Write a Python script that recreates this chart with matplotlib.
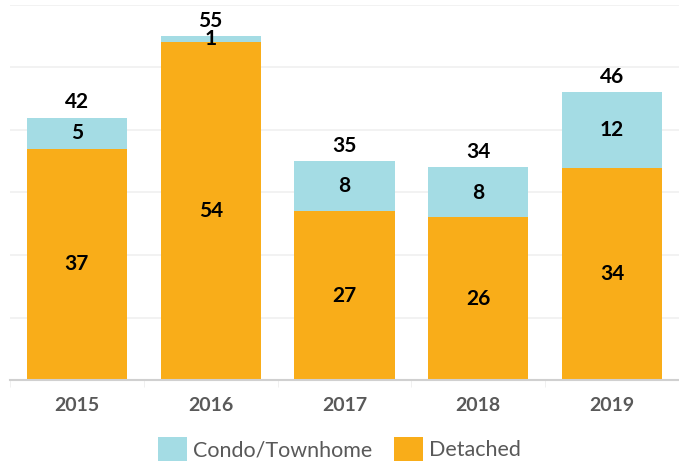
import matplotlib.pyplot as plt
import numpy as np

# datos
years = ['2015', '2016', '2017', '2018', '2019']
detached = [37, 54, 27, 26, 34]
condo = [5, 1, 8, 8, 12]
totals = [42, 55, 35, 34, 46]

c_det = '#F9AD19'
c_con = '#A4DCE4'
font = ['Lato', 'DejaVu Sans']

fig = plt.figure(figsize=(6.79, 4.61), dpi=100)
ax = fig.add_axes([10/679, 81/461, 669/679, 375/461])

x = np.arange(len(years))
w = 0.75
b1 = ax.bar(x, detached, w, color=c_det, label='Detached', zorder=2)
b2 = ax.bar(x, condo, w, bottom=detached, color=c_con, label='Condo/Townhome', zorder=2)

# etiquetas dentro de las barras
for i in range(len(years)):
    ax.text(x[i], detached[i] / 2, str(detached[i]), ha='center', va='center',
            fontsize=15, fontweight='bold', family=font, color='black', zorder=3)
    ax.text(x[i], detached[i] + condo[i] / 2, str(condo[i]), ha='center', va='center',
            fontsize=15, fontweight='bold', family=font, color='black', zorder=3)
    ax.annotate(str(totals[i]), (x[i], totals[i]), xytext=(0, 4), textcoords='offset points',
                ha='center', va='bottom', fontsize=15, fontweight='bold', family=font,
                color='black', zorder=3)

ax.set_ylim(0, 60)
ax.set_xlim(-0.434, 4.44)
ax.set_yticks(np.arange(0, 61, 10))
ax.yaxis.grid(True, color='#f0f0f0', linewidth=1.2, zorder=0)
ax.tick_params(axis='y', length=0, labelleft=False)
ax.set_xticks(x)
ax.set_xticklabels(years, fontsize=14, fontweight='bold', family=font, color='#595959')
ax.set_xticks(np.arange(-0.5, 4.6, 1), minor=True)
ax.tick_params(axis='x', which='major', length=0, pad=12)
ax.tick_params(axis='x', which='minor', length=5, color='#eeeeee')
for s in ['top', 'right', 'left']:
    ax.spines[s].set_visible(False)
ax.spines['bottom'].set_color('#d0d0d0')
ax.spines['bottom'].set_linewidth(1.5)

h = [b2, b1]
leg = fig.legend(h, ['Condo/Townhome', 'Detached'], loc='center', bbox_to_anchor=(0.5, 12/461),
                 ncol=2, frameon=False, handlelength=1.35, handleheight=1.35, handletextpad=0.3,
                 columnspacing=1.0, prop={'family': font, 'size': 15.5})
for t in leg.get_texts():
    t.set_color('#595959')

fig.savefig('out.png', dpi=100)
